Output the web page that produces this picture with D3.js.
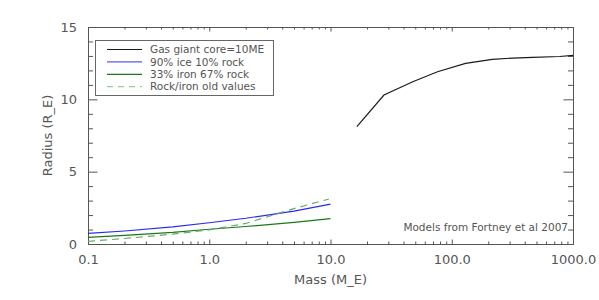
<!DOCTYPE html>
<html><head><meta charset="utf-8">
<script src="https://cdn.jsdelivr.net/npm/d3@7"></script>
<style>
body{margin:0;background:#fff;}
text{font-family:"DejaVu Sans",sans-serif;fill:#555;}
</style></head>
<body><svg id="c" width="599" height="300"></svg>
<script>
// Data
const gasMass   = [16.5, 27.6, 47.7, 76.3, 130, 216, 318, 464, 775, 1000];
const gasRadius = [8.11, 10.30, 11.22, 11.91, 12.49, 12.76, 12.85, 12.90, 12.96, 13.04];
const iceMass   = [0.1, 0.2, 0.5, 1, 2, 5, 10];
const iceRadius = [0.74, 0.90, 1.18, 1.47, 1.78, 2.27, 2.76];
const rockMass   = [0.1, 0.2, 0.5, 1, 2, 5, 10];
const rockRadius = [0.46, 0.59, 0.80, 1.02, 1.21, 1.50, 1.75];
const oldMass   = [0.1, 0.2, 0.5, 1, 2, 5, 9.7];
const oldRadius = [0.18, 0.38, 0.68, 0.98, 1.42, 2.45, 3.11];
const xMajor = [0.1, 1, 10, 100, 1000];
const yMajor = [0, 5, 10, 15];
const legendLabels = ["Gas giant core=10ME", "90% ice 10% rock", "33% iron 67% rock", "Rock/iron old values"];
const xTitle = "Mass  (M_E)";
const yTitle = "Radius  (R_E)";
const note = "Models from Fortney et al 2007";

const L = 88, R = 573, T = 27, B = 244;
const svg = d3.select("#c");
const x = d3.scaleLog().domain([0.1, 1000]).range([L, R]);
const y = d3.scaleLinear().domain([0, 15]).range([B, T]);

const xMinor = [];
for (let e = -1; e < 3; e++) for (let k = 2; k <= 9; k++) xMinor.push(k * Math.pow(10, e));
const yMinor = d3.range(0, 16).filter(v => v % 5 !== 0);
const axisCol = "#555";

function style(g){
  g.select(".domain").attr("stroke", axisCol).attr("stroke-width", 1);
  g.selectAll(".tick line").attr("stroke", axisCol);
  g.selectAll(".tick text").attr("fill", "#555").attr("font-size", 13).attr("font-family", "DejaVu Sans");
}
// bottom
svg.append("g").attr("transform", `translate(0,${B})`)
  .call(d3.axisBottom(x).tickValues(xMajor).tickSizeInner(-4.5).tickSizeOuter(0).tickPadding(11).tickFormat(d3.format(".1f"))).call(style);
svg.append("g").attr("transform", `translate(0,${B})`)
  .call(d3.axisBottom(x).tickValues(xMinor).tickSizeInner(-2.5).tickSizeOuter(0).tickFormat("")).call(style);
// top
svg.append("g").attr("transform", `translate(0,${T})`)
  .call(d3.axisTop(x).tickValues(xMajor).tickSizeInner(-4.5).tickSizeOuter(0).tickFormat("")).call(style);
svg.append("g").attr("transform", `translate(0,${T})`)
  .call(d3.axisTop(x).tickValues(xMinor).tickSizeInner(-2.5).tickSizeOuter(0).tickFormat("")).call(style);
// left
svg.append("g").attr("transform", `translate(${L},0)`)
  .call(d3.axisLeft(y).tickValues(yMajor).tickSizeInner(-9.5).tickSizeOuter(0).tickPadding(11).tickFormat(d3.format("d"))).call(style);
svg.append("g").attr("transform", `translate(${L},0)`)
  .call(d3.axisLeft(y).tickValues(yMinor).tickSizeInner(-5).tickSizeOuter(0).tickFormat("")).call(style);
// right
svg.append("g").attr("transform", `translate(${R},0)`)
  .call(d3.axisRight(y).tickValues(yMajor).tickSizeInner(-9.5).tickSizeOuter(0).tickFormat("")).call(style);
svg.append("g").attr("transform", `translate(${R},0)`)
  .call(d3.axisRight(y).tickValues(yMinor).tickSizeInner(-5).tickSizeOuter(0).tickFormat("")).call(style);

const line = d3.line().x(d => x(d[0])).y(d => y(d[1]));
const series = [
  {m: gasMass, r: gasRadius, color: "#1a1a1a", dash: null},
  {m: iceMass, r: iceRadius, color: "#2a2aee", dash: null},
  {m: rockMass, r: rockRadius, color: "#177a17", dash: null},
  {m: oldMass, r: oldRadius, color: "#6aaa6a", dash: "7,5"}
];
series.forEach(s => {
  svg.append("path").datum(s.m.map((v, i) => [v, s.r[i]]))
    .attr("d", line).attr("fill", "none").attr("stroke", s.color)
    .attr("stroke-width", 1.2).attr("stroke-dasharray", s.dash);
});

// legend
svg.append("rect").attr("x", 95.5).attr("y", 40.5).attr("width", 178).attr("height", 55)
  .attr("fill", "#fff").attr("stroke", "#666").attr("stroke-width", 1);
const legCols = ["#1a1a1a", "#5a5aee", "#177a17", "#9acc9a"];
legendLabels.forEach((t, i) => {
  const yy = 49.5 + i * 12.4;
  svg.append("line").attr("x1", 107).attr("x2", 142).attr("y1", yy).attr("y2", yy)
    .attr("stroke", legCols[i]).attr("stroke-width", 1.2)
    .attr("stroke-dasharray", i === 3 ? "6,5" : null);
  svg.append("text").attr("x", 150).attr("y", yy).attr("dy", "0.36em")
    .attr("font-size", 10.5).attr("fill", "#444").text(t);
});

svg.append("text").attr("x", 568).attr("y", 227).attr("dy", "0.36em").attr("text-anchor", "end")
  .attr("font-size", 10.5).attr("fill", "#444").text(note);
svg.append("text").attr("x", (L + R) / 2).attr("y", 279).attr("dy", "0.36em").attr("text-anchor", "middle")
  .attr("font-size", 13).text(xTitle);
svg.append("text").attr("transform", `translate(47,${(T + B) / 2}) rotate(-90)`).attr("dy", "0.36em")
  .attr("text-anchor", "middle").attr("font-size", 13).text(yTitle);
</script></body></html>
